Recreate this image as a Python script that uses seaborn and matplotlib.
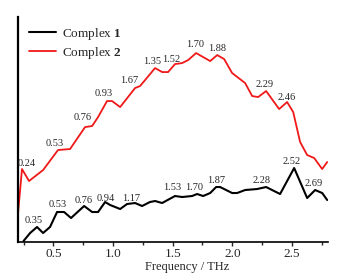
import numpy as np
import pandas as pd
import matplotlib
matplotlib.use("Agg")
import matplotlib.pyplot as plt
from matplotlib.ticker import MultipleLocator
import seaborn as sns

# traced spectra (frequency in THz, intensity in arbitrary units)
freq1 = [0.25, 0.305, 0.363, 0.414, 0.472, 0.531, 0.590, 0.648, 0.758, 0.825, 0.875,
         0.934, 0.976, 1.06, 1.118, 1.185, 1.244, 1.31, 1.353, 1.412, 1.52, 1.58,
         1.663, 1.705, 1.756, 1.815, 1.865, 1.898, 1.999, 2.041, 2.108, 2.209, 2.284,
         2.401, 2.519, 2.628, 2.695, 2.754, 2.796]
amp1 = [0.5, 8.5, 14.5, 8.5, 14.5, 29.5, 29.5, 23.5, 35.5, 29.5, 29.5,
        39.5, 36.5, 32.5, 37.5, 38.5, 35.5, 39.5, 40.5, 38.5, 45.5, 44.5,
        45.5, 47.5, 45.5, 48.5, 54.5, 54.5, 48.5, 48.5, 51.5, 52.5, 54.5,
        47.5, 73.5, 43.5, 51.5, 48.5, 41.5]

freq2 = [0.204, 0.237, 0.296, 0.414, 0.539, 0.64, 0.766, 0.825, 0.875, 0.95, 0.992,
         1.06, 1.185, 1.227, 1.353, 1.412, 1.462, 1.52, 1.58, 1.63, 1.697, 1.815,
         1.874, 1.932, 1.999, 2.108, 2.167, 2.217, 2.284, 2.393, 2.46, 2.511, 2.569,
         2.628, 2.687, 2.754, 2.796]
amp2 = [28.5, 72.5, 60.5, 71.5, 91.5, 92.5, 114.5, 115.5, 124.5, 140.5, 140.5,
        134.5, 153.5, 155.5, 173.5, 169.5, 169.5, 177.5, 178.5, 181.5, 188.5, 180.5,
        186.5, 182.5, 168.5, 158.5, 145.5, 144.5, 150.5, 132.5, 139.5, 129.5, 99.5,
        86.5, 83.5, 72.5, 79.5]

# peak labels as printed in the figure, with the spot where each sits
labels1 = ["0.35", "0.53", "0.76", "0.94", "1.17", "1.53", "1.70", "1.87", "2.28", "2.52", "2.69"]
lab1_x = [0.338, 0.539, 0.758, 0.943, 1.152, 1.495, 1.68, 1.865, 2.242, 2.502, 2.68]
lab1_y = [21.0, 37.0, 41.5, 43.5, 43.5, 54.5, 54.5, 61.5, 61.5, 80.5, 58.5]

labels2 = ["0.24", "0.53", "0.76", "0.93", "1.67", "1.35", "1.52", "1.70", "1.88", "2.29", "2.46"]
lab2_x = [0.279, 0.514, 0.745, 0.918, 1.138, 1.328, 1.489, 1.689, 1.873, 2.27, 2.46]
lab2_y = [78.5, 98.5, 124.0, 148.0, 161.0, 180.0, 182.0, 197.0, 193.5, 157.5, 144.5]

sns.set_style("white")
plt.rcParams["font.family"] = ["Liberation Serif", "DejaVu Serif"]
plt.rcParams["mathtext.fontset"] = "custom"
plt.rcParams["mathtext.rm"] = "Liberation Serif"
plt.rcParams["mathtext.bf"] = "Liberation Serif:bold"

df1 = pd.DataFrame({"f": freq1, "a": amp1})
df2 = pd.DataFrame({"f": freq2, "a": amp2})

fig = plt.figure(figsize=(3.37, 2.80), dpi=100)
ax = fig.add_axes([0.0543, 0.1375, 0.918, 0.8015])

sns.lineplot(data=df1, x="f", y="a", ax=ax, color="black", lw=1.5,
             label=r"Complex $\mathbf{1}$", sort=False)
sns.lineplot(data=df2, x="f", y="a", ax=ax, color="#f01818", lw=1.3,
             label=r"Complex $\mathbf{2}$", sort=False)

for t, x, y in zip(labels1, lab1_x, lab1_y):
    ax.text(x, y, t, ha="center", va="center", fontsize=7.5)
for t, x, y in zip(labels2, lab2_x, lab2_y):
    ax.text(x, y, t, ha="center", va="center", fontsize=7.5)

ax.set_xlim(0.206, 2.80)
ax.set_ylim(0, 224.5)
ax.xaxis.set_major_locator(MultipleLocator(0.5))
ax.xaxis.set_minor_locator(MultipleLocator(0.25))
ax.tick_params(axis="x", which="major", direction="out", length=3, width=1,
               labelsize=9.5, pad=1.5, bottom=True)
ax.tick_params(axis="x", which="minor", direction="out", length=2, width=1, bottom=True)
ax.set_yticks([])
ax.set_ylabel("")
ax.set_xlabel("Frequency / THz", fontsize=9)
ax.xaxis.set_label_coords(0.547, -0.085)

for s in ["top", "right"]:
    ax.spines[s].set_visible(False)
ax.spines["left"].set_linewidth(1.6)
ax.spines["bottom"].set_linewidth(1.2)
ax.spines["left"].set_color("black")
ax.spines["bottom"].set_color("black")

leg = ax.legend(loc="upper left", bbox_to_anchor=(0.035, 0.96), frameon=False,
                fontsize=9.5, handlelength=2.0, handletextpad=0.5,
                labelspacing=0.2, borderpad=0, borderaxespad=0)

fig.savefig("out.png", dpi=100)
